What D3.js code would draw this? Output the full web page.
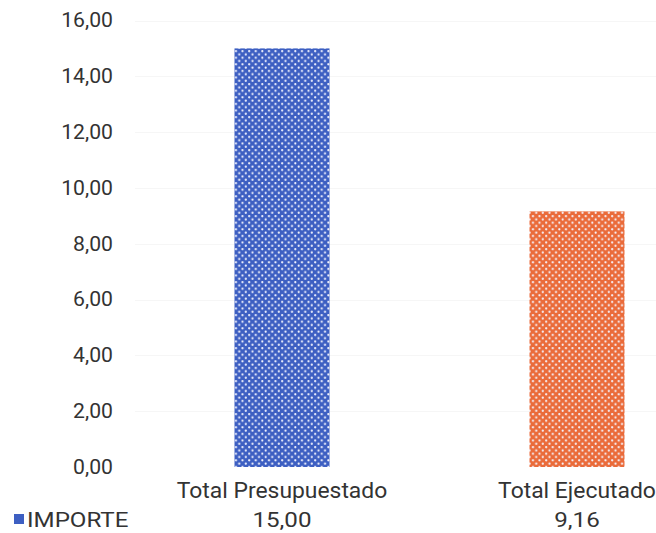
<!DOCTYPE html>
<html>
<head>
<meta charset="utf-8">
<script src="https://cdn.jsdelivr.net/npm/d3@7"></script>
<style>
  html, body { margin: 0; padding: 0; background: #ffffff; }
  svg { display: block; }
  text { font-family: Roboto, "Noto Sans", sans-serif; fill: #333333; }
</style>
</head>
<body>
<svg id="chart" width="656" height="533"></svg>
<script>
// ---- data ----
const categories = ["Total Presupuestado", "Total Ejecutado"];
const values = [15.00, 9.16];
const valueLabels = ["15,00", "9,16"];
const seriesName = "IMPORTE";
const yTicks = [0, 2, 4, 6, 8, 10, 12, 14, 16];
const barColors = ["#3d5fc2", "#ea6b3a"];

const fmt = v => d3.format(".2f")(v).replace(".", ",");

const svg = d3.select("#chart");

const x = d3.scaleBand()
  .domain(categories)
  .range([134.5, 724.5])
  .paddingInner(0.678)
  .paddingOuter(0.339);

const y = d3.scaleLinear().domain([0, 16]).range([467, 20.5]);

// patterns
const defs = svg.append("defs");
barColors.forEach((c, i) => {
  const p = defs.append("pattern")
    .attr("id", "dots" + i)
    .attr("patternUnits", "userSpaceOnUse")
    .attr("width", 6.6).attr("height", 6.6);
  p.append("rect").attr("width", 6.6).attr("height", 6.6).attr("fill", c);
  p.append("circle").attr("cx", 1.65).attr("cy", 1.65).attr("r", 1.1).attr("fill", "#f6f6ff");
  p.append("circle").attr("cx", 4.95).attr("cy", 4.95).attr("r", 1.1).attr("fill", "#f6f6ff");
});

// faint gridlines
svg.append("g").selectAll("line").data(yTicks.filter(d => d > 0)).join("line")
  .attr("x1", 135).attr("x2", 656)
  .attr("y1", d => Math.round(y(d)) + 0.5).attr("y2", d => Math.round(y(d)) + 0.5)
  .attr("stroke", "#f6f6f6").attr("stroke-width", 1);

// helper: horizontal stretch of text around its anchor
function stretch(sel, sx) {
  sel.each(function () {
    const t = d3.select(this);
    const tx = +t.attr("x") || 0, ty = +t.attr("y") || 0;
    t.attr("transform", `translate(${tx},${ty}) scale(${sx},1) translate(${-tx},${-ty})`);
  });
}

// y axis
const yAxis = d3.axisLeft(y).tickValues(yTicks).tickFormat(fmt).tickSize(0).tickPadding(0);
const gy = svg.append("g").attr("transform", "translate(113,0)").call(yAxis);
gy.select(".domain").remove();
gy.selectAll("text").style("font-size", "20px").attr("fill", "#333333")
  .style("font-family", "Roboto, sans-serif").attr("x", 0).attr("y", 0);
gy.selectAll("text").call(stretch, 1.06);

// bars
svg.append("g").selectAll("rect").data(categories).join("rect")
  .attr("x", d => x(d))
  .attr("y", (d, i) => y(values[i]))
  .attr("width", x.bandwidth())
  .attr("height", (d, i) => y(0) - y(values[i]))
  .attr("fill", (d, i) => "url(#dots" + i + ")");

// category labels (x axis)
const xAxis = d3.axisBottom(x).tickSize(0).tickPadding(0);
const gx = svg.append("g").attr("transform", "translate(0,498)").call(xAxis);
gx.select(".domain").remove();
gx.selectAll("text").style("font-size", "22px").attr("fill", "#333333")
  .style("font-family", "Roboto, sans-serif").attr("dy", null).attr("y", 0).attr("x", 0);
gx.selectAll("text").call(stretch, 1.04);

// data table row
svg.append("rect").attr("x", 14).attr("y", 514).attr("width", 10).attr("height", 10).attr("fill", barColors[0]);
svg.append("text").attr("x", 27).attr("y", 527).style("font-size", "21px").text(seriesName)
  .call(stretch, 1.15);
svg.append("g").selectAll("text").data(categories).join("text")
  .attr("x", d => x(d) + x.bandwidth() / 2)
  .attr("y", 527)
  .attr("text-anchor", "middle")
  .style("font-size", "21px")
  .text((d, i) => valueLabels[i])
  .call(stretch, 1.15);
</script>
</body>
</html>
